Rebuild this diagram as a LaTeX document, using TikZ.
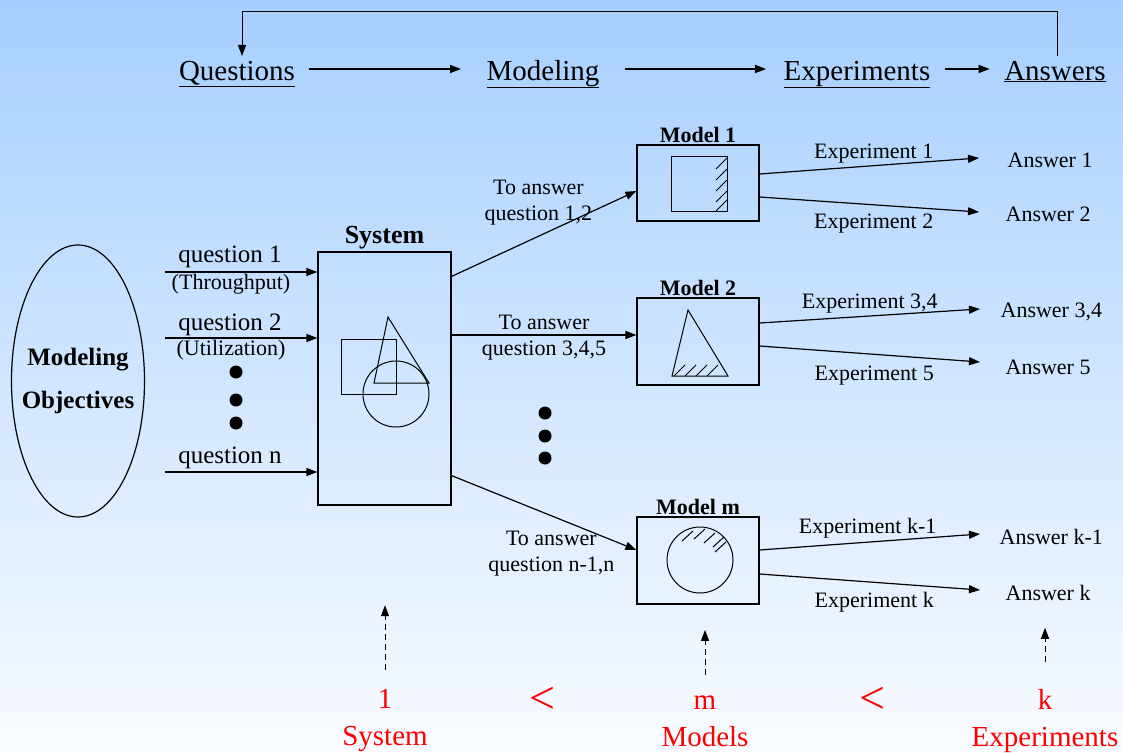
\documentclass[tikz,border=0pt]{standalone}
\usepackage{fontspec}
\setmainfont{Liberation Serif}
\usepackage{tikz}
\usetikzlibrary{arrows.meta,shapes.geometric,positioning}
\definecolor{skyblue}{RGB}{166,207,255}
\definecolor{paleblue}{RGB}{250,252,255}

\begin{document}
\begin{tikzpicture}[x=1pt,y=-1pt,line width=1.2pt,
    every node/.style={inner sep=1pt},
    arr/.style={-{Triangle[length=11pt,width=8pt]}},
    dasharr/.style={arr,dash pattern=on 6pt off 4pt,line width=1pt},
    head/.style={font=\fontsize{29}{34}\selectfont},
    qlbl/.style={font=\fontsize{25}{28}\selectfont},
    lbl/.style={font=\fontsize{22}{26}\selectfont,align=center},
    boxtitle/.style={font=\bfseries\fontsize{22}{24}\selectfont},
    modelbox/.style={draw,minimum width=122pt,minimum height=87pt},
    count/.style={text=red,font=\fontsize{29}{37}\selectfont,align=center}]
  \shade[top color=skyblue,bottom color=paleblue] (0,0) rectangle (1123,752);
  \useasboundingbox (0,0) rectangle (1123,752);

  % top line
  \node[head,anchor=base] (q)  at (237,80) {\underline{Questions}};
  \node[head,anchor=base] (mo) at (543,80) {\underline{Modeling}};
  \node[head,anchor=base] (ex) at (857,80) {\underline{Experiments}};
  \node[head,anchor=base] (an) at (1055,80) {\underline{Answers}};
  \draw[arr] ([xshift=12pt,yshift=11pt]q.base east) -- ([xshift=-24pt,yshift=11pt]mo.base west);
  \draw[arr] ([xshift=24pt,yshift=11pt]mo.base east) -- ([xshift=-16pt,yshift=11pt]ex.base west);
  \draw[arr] ([xshift=13pt,yshift=11pt]ex.base east) -- ([xshift=-13pt,yshift=11pt]an.base west);
  \draw[arr,line width=1pt] ([xshift=2pt,yshift=24pt]an.base) -- ++(0,-44) -| ([xshift=5pt,yshift=24pt]q.base);

  % objectives and questions
  \node[draw,ellipse,minimum width=133pt,minimum height=272pt] (obj) at (78,381) {};
  \node[align=center,font=\bfseries\fontsize{25}{43}\selectfont] (objtext) at (obj.center) {Modeling\\Objectives};
  \node[draw,minimum width=133pt,minimum height=253pt] (sys) at (384.5,378.5) {};
  \node[font=\bfseries\fontsize{26}{28}\selectfont,above=1pt of sys] (systitle) {System};
  \draw[line width=1pt] (341,339) rectangle (396,394);
  \draw[line width=1pt] (388,317) -- (374,383) -- (429,383) -- cycle;
  \draw[line width=1pt] (396,394) circle[radius=33];

  \node[qlbl,anchor=base] (q1) at (230,262) {question 1};
  \node[lbl] (q1note) at (231,284) {(Throughput)};
  \node[qlbl,anchor=base] (q2) at (230,330) {question 2};
  \node[lbl] (q2note) at (231,350) {(Utilization)};
  \node[qlbl,anchor=base] (qn) at (230,463) {question n};
  \coordinate (q1in) at (165,272);
  \coordinate (q2in) at (165,338);
  \coordinate (qnin) at (165,472);
  \foreach \c in {q1in,q2in,qnin}
    \draw[arr] (\c) -- (\c -| sys.west);
  \foreach \y in {372,400,423}
    \fill (236,\y) circle[radius=6.5];

  % models
  \node[modelbox,minimum height=76pt] (m1) at (698,183) {};
  \node[modelbox] (m2) at (698,341.5) {};
  \node[modelbox] (mm) at (698,560.5) {};
  \node[boxtitle,above=0pt of m1] (m1title) {Model 1};
  \node[boxtitle,above=0pt of m2] (m2title) {Model 2};
  \node[boxtitle,above=0pt of mm] (mmtitle) {Model m};

  \draw[line width=1pt] (671,156) rectangle (727,211);
  \foreach \y in {158,169,180,191,200}
    \draw[line width=1pt] (727,\y) -- ++(-11,11);
  \draw[line width=1pt] (688,310) -- (672,376) -- (728,376) -- cycle;
  \foreach \x in {674,685,696,707}
    \draw[line width=1pt] (\x,376) -- ++(11,-11);
  \draw[line width=1pt] (700,560) circle[radius=33];
  \foreach \x/\y in {682/541,694/539,704/543,713/547,715/552}
    \draw[line width=1pt] (\x,\y) -- ++(11,-10);

  \draw[arr] ([yshift=-25pt]sys.north east) -- ([yshift=-8pt]m1.west)
    node[lbl,pos=0.47,above=9pt] {To answer\\question 1,2};
  \draw[arr] ([yshift=43.5pt]sys.east) -- ([yshift=6.5pt]m2.west)
    node[lbl,midway,yshift=-3pt] {To answer\\question 3,4,5};
  \draw[arr] ([yshift=30pt]sys.south east) -- ([yshift=10.5pt]mm.west)
    node[lbl,pos=0.54,below=14pt] {To answer\\question n-1,n};
  \foreach \y in {413,436,458}
    \fill (545,\y) circle[radius=6.5];

  % experiments and answers
  \node[lbl,anchor=west] (a1)  at (1006,160) {Answer 1};
  \node[lbl,anchor=west] (a2)  at (1004,214) {Answer 2};
  \node[lbl,anchor=west] (a34) at (999,312)  {Answer 3,4};
  \node[lbl,anchor=west] (a5)  at (1004,367) {Answer 5};
  \node[lbl,anchor=west] (ak1) at (998,537)  {Answer k-1};
  \node[lbl,anchor=west] (ak)  at (1004,593) {Answer k};
  \draw[arr] ([yshift=9pt]m1.east) -- ([xshift=-27pt,yshift=2pt]a1.west)
    node[lbl,pos=0.52,above=1pt] {Experiment 1};
  \draw[arr] ([yshift=-14pt]m1.east) -- ([xshift=-25pt,yshift=2pt]a2.west)
    node[lbl,pos=0.52,below=8pt] {Experiment 2};
  \draw[arr] ([yshift=18.5pt]m2.east) -- ([xshift=-19pt,yshift=3pt]a34.west)
    node[lbl,pos=0.5,above=1pt] {Experiment 3,4};
  \draw[arr] ([yshift=-4.5pt]m2.east) -- ([xshift=-24pt,yshift=5pt]a5.west)
    node[lbl,pos=0.52,below=10pt] {Experiment 5};
  \draw[arr] ([yshift=10.5pt]mm.east) -- ([xshift=-18pt,yshift=3pt]ak1.west)
    node[lbl,pos=0.49,above=2pt] {Experiment k-1};
  \draw[arr] ([yshift=-13.5pt]mm.east) -- ([xshift=-24pt,yshift=3pt]ak.west)
    node[lbl,pos=0.52,below=8pt] {Experiment k};

  % counts
  \node[count] (c1) at (385,721) {1\\System};
  \node[count] (c2) at (705,721) {m\\Models};
  \node[count] (c3) at (1045,721) {k\\Experiments};
  \node[text=red,font=\fontsize{46}{46}\selectfont] (lt1) at (542,700) {<};
  \node[text=red,font=\fontsize{46}{46}\selectfont] (lt2) at (872,700) {<};
  \draw[dasharr] ([yshift=18pt]c1.north) -- ++(0,-65);
  \draw[dasharr] ([yshift=19pt]c2.north) -- ++(0,-45);
  \draw[dasharr] ([yshift=26pt]c3.north) -- ++(0,-34);
\end{tikzpicture}
\end{document}
